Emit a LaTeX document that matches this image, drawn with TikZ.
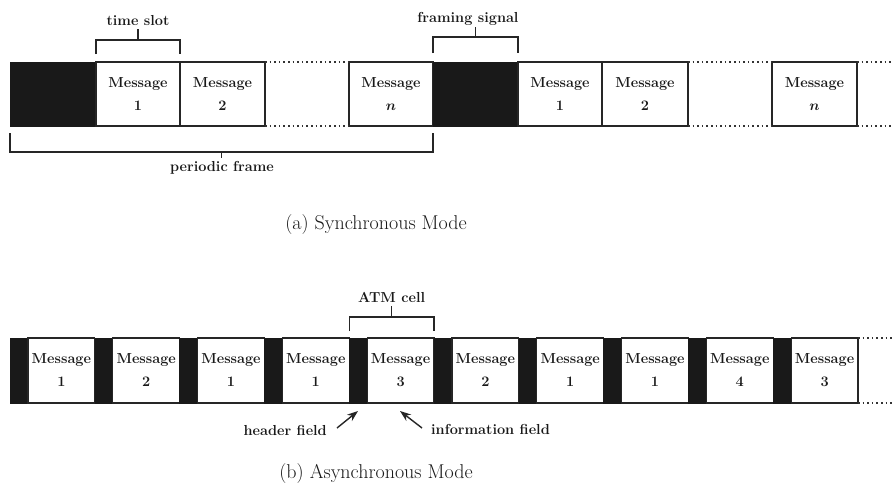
\documentclass[tikz,border=0pt]{standalone}
\usetikzlibrary{arrows.meta,calc}
\begin{document}
\begin{tikzpicture}[x=1pt,y=-1pt,
  frameline/.style={draw=black!85, line width=1.2pt},
  cell/.style={frameline, fill=white, minimum height=64pt, inner sep=0pt, outer sep=0pt,
    align=center, font=\fontsize{14.5}{23}\selectfont\bfseries, text=black!90},
  sig/.style={fill=black!90, draw=black!90, line width=0.6pt, minimum height=64pt,
    inner sep=0pt, outer sep=0pt},
  gap/.style={draw=black!80, line width=1.3pt, dash pattern=on 1.6pt off 3pt},
  brace/.style={draw=black!85, line width=1.1pt},
  lab/.style={font=\fontsize{14.5}{16}\selectfont\bfseries, text=black!90, inner sep=1pt},
  caption/.style={font=\fontsize{20}{24}\selectfont, text=black!90},
  pointer/.style={draw=black!85, line width=1.4pt, -{Stealth[length=11pt,width=8pt]}}]

\fill[white] (0,0) rectangle (892,490);
\useasboundingbox (0,0) rectangle (892,490);

% ---------------- (a) synchronous transfer: periodic frames ----------------
\node[sig,  minimum width=86pt] (fsA) at (53,94) {};
\node[cell, minimum width=84pt] (a1)  at (138,94) {Message\\1};
\node[cell, minimum width=85pt] (a2)  at (222.5,94) {Message\\2};
\node[cell, minimum width=84pt] (an)  at (391,94) {Message\\{\boldmath$n$}};
\node[sig,  minimum width=85pt] (fsB) at (475.5,94) {};
\node[cell, minimum width=84pt] (b1)  at (560,94) {Message\\1};
\node[cell, minimum width=86pt] (b2)  at (645,94) {Message\\2};
\node[cell, minimum width=85pt] (bn)  at (814.5,94) {Message\\{\boldmath$n$}};

% elided slots
\draw[gap] (a2.north east) -- (an.north west);
\draw[gap] (a2.south east) -- (an.south west);
\draw[gap] (b2.north east) -- (bn.north west);
\draw[gap] (b2.south east) -- (bn.south west);
\coordinate (endAtop) at (892,62);
\coordinate (endAbot) at (892,126);
\draw[gap] (bn.north east) -- (endAtop);
\draw[gap] (bn.south east) -- (endAbot);

% time slot bracket
\draw[brace] (96,54) -- (96,40) -- (180,40) -- (180,54);
\draw[brace] (138,40) -- (138,29);
\node[lab] (ts) at (138,21) {time slot};

% framing signal bracket
\draw[brace] (433,53) -- (433,37) -- (518,37) -- (518,53);
\draw[brace] (475.5,37) -- (475.5,27);
\node[lab] (fs) at (468,19) {framing signal};

% periodic frame bracket
\draw[brace] (10,133) -- (10,152) -- (433,152) -- (433,133);
\draw[brace] (221.5,152) -- (221.5,158);
\node[lab] (pf) at (222,168) {periodic frame};

\node[caption] (capA) at (376,225) {(a) Synchronous Mode};

% ---------------- (b) asynchronous transfer: ATM cells ----------------
\foreach \k/\m in {0/1,1/2,2/1,3/1,4/3,5/2,6/1,7/1,8/4,9/3} {
  \pgfmathsetmacro\xs{10+84.8*\k}
  \node[sig,  minimum width=18pt,   minimum height=65pt] (h\k) at (\xs+9,370.5) {};
  \node[cell, minimum width=66.8pt, minimum height=65pt] (c\k) at (\xs+51.4,370.5) {Message\\\m};
}
\coordinate (endBtop) at (892,338);
\coordinate (endBbot) at (892,403);
\draw[gap] (c9.north east) -- (endBtop);
\draw[gap] (c9.south east) -- (endBbot);

% ATM cell bracket
\draw[brace] (349.2,331) -- (349.2,317) -- (434,317) -- (434,331);
\draw[brace] (391.6,317) -- (391.6,306);
\node[lab] (atm) at (391.6,297) {ATM cell};

% field pointers
\node[lab, anchor=east] (hf) at (328,430) {header field};
\node[lab, anchor=west] (inf) at (430,429) {information field};
\coordinate (hfTip) at (358,411);
\coordinate (infTip) at (400,411);
\draw[pointer] ([shift={(9,-2)}]hf.east) -- (hfTip);
\draw[pointer] ([shift={(-8,-1)}]inf.west) -- (infTip);

\node[caption] (capB) at (376,474) {(b) Asynchronous Mode};
\end{tikzpicture}
\end{document}
